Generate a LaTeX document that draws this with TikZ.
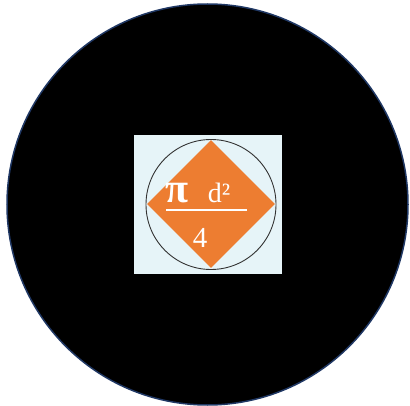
\documentclass[tikz,border=0pt]{standalone}
\usepackage{fontspec}
\setmainfont{Liberation Serif}
\usetikzlibrary{shapes.geometric}
\definecolor{navy}{HTML}{203864}
\definecolor{panel}{HTML}{E6F4F8}
\definecolor{orng}{HTML}{ED7D31}
\tikzset{
  formula/.style={text=white, inner sep=0pt, anchor=base},
}
\begin{document}
\begin{tikzpicture}[x=1pt,y=-1pt]
\useasboundingbox (0,0) rectangle (410,406);
\fill[white] (0,0) rectangle (410,406);
\node[circle, fill=black, draw=navy, line width=1.5pt, minimum size=401pt, inner sep=0pt] (outer) at (207.5,204.5) {};
\node[rectangle, fill=panel, minimum width=148pt, minimum height=139pt, inner sep=0pt] (panel) at (208,204.5) {};
\node[circle, draw=black!80, line width=0.9pt, minimum size=130pt, inner sep=0pt] (ring) at (211,204.5) {};
\node[diamond, fill=orng, minimum width=128pt, minimum height=128pt, inner sep=0pt, aspect=1] (dia) at (211,204) {};
\node[formula, font=\fontsize{42}{42}\selectfont\bfseries] (pi) at (177,203) {π};
\node[formula, font=\fontsize{28}{28}\selectfont] (dsq) at (219,203) {d²};
\coordinate (fl) at (166,210);
\coordinate (fr) at (247,210);
\draw[white, line width=1.2pt] (fl) -- (fr);
\node[formula, font=\fontsize{29}{29}\selectfont] (four) at (200,248) {4};
\end{tikzpicture}
\end{document}
